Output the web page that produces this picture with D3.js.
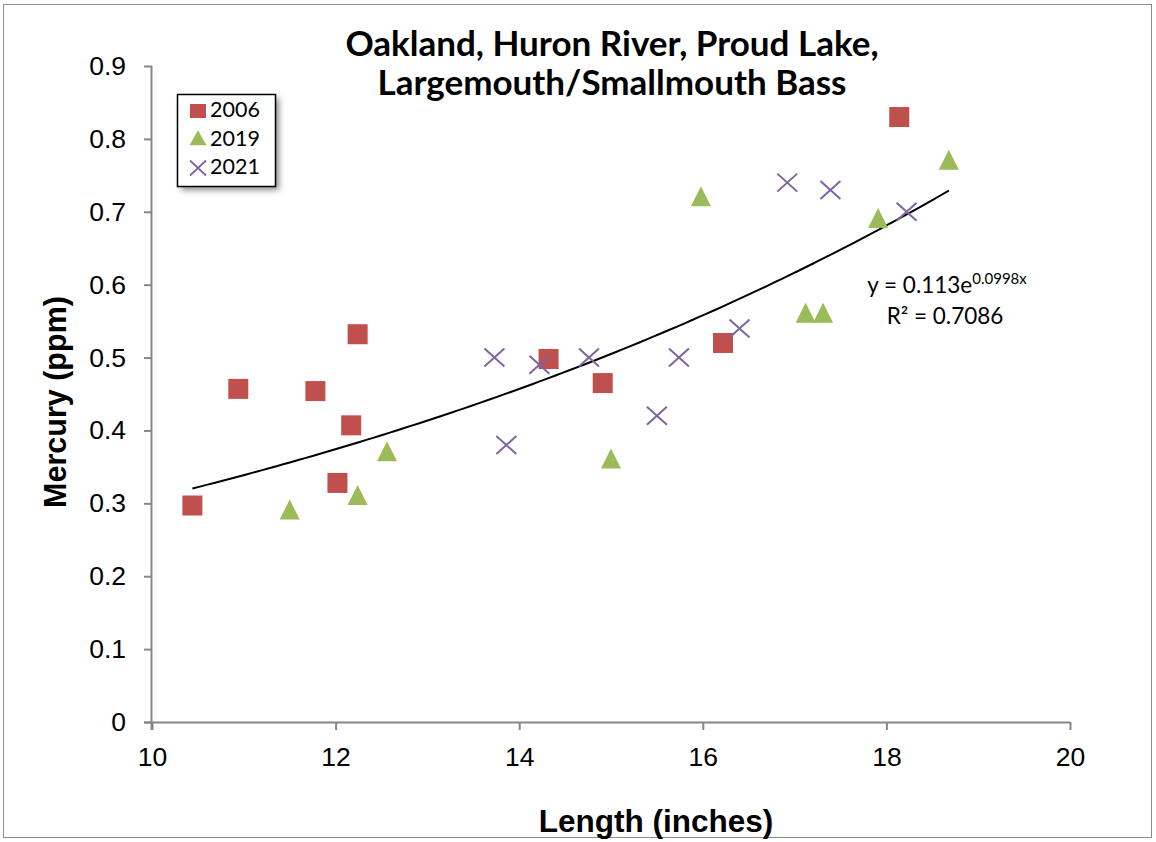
<!DOCTYPE html>
<html><head><meta charset="utf-8">
<script src="https://cdn.jsdelivr.net/npm/d3@7"></script>
<style>body{margin:0;background:#fff}svg{display:block}</style>
</head><body>
<script>
const len2006 = [10.44, 10.94, 11.78, 12.17, 12.02, 12.24, 14.32, 14.91, 16.22, 18.14];
const hg2006  = [0.297, 0.457, 0.454, 0.407, 0.328, 0.532, 0.498, 0.465, 0.52, 0.83];
const len2019 = [11.5, 12.24, 12.56, 15.0, 15.98, 17.12, 17.31, 17.91, 18.68];
const hg2019  = [0.29, 0.31, 0.37, 0.36, 0.72, 0.56, 0.56, 0.69, 0.77];
const len2021 = [13.73, 13.86, 14.22, 14.76, 15.74, 15.5, 16.4, 16.92, 17.39, 18.22];
const hg2021  = [0.50, 0.38, 0.49, 0.50, 0.50, 0.42, 0.54, 0.74, 0.73, 0.70];
const xTicks = [10, 12, 14, 16, 18, 20];
const yTicks = [0, 0.1, 0.2, 0.3, 0.4, 0.5, 0.6, 0.7, 0.8, 0.9];
const trendA = 0.113, trendB = 0.0998, trendX0 = 10.44, trendX1 = 18.68;
const titleLines = ["Oakland, Huron River, Proud Lake,", "Largemouth/Smallmouth Bass"];
const seriesNames = ["2006", "2019", "2021"];

const W = 1156, H = 842;
const svg = d3.select("body").append("svg").attr("width", W).attr("height", H);
const defs = svg.append("defs");
const f = defs.append("filter").attr("id","sh").attr("x","-20%").attr("y","-20%").attr("width","150%").attr("height","150%");
f.append("feGaussianBlur").attr("stdDeviation", 3);

svg.append("rect").attr("x",3.5).attr("y",4.5).attr("width",1148).attr("height",833)
  .attr("fill","#fff").attr("stroke","#8c8c8c").attr("stroke-width",1);

const x = d3.scaleLinear().domain([10,20]).range([152,1070]);
const y = d3.scaleLinear().domain([0,0.9]).range([722,66]);

const axisColor = "#868686";
const gx = svg.append("g").attr("transform","translate(0,722)")
  .call(d3.axisBottom(x).tickValues(xTicks).tickSize(8).tickSizeOuter(0).tickPadding(17).tickFormat(d3.format("d")));
const gy = svg.append("g").attr("transform","translate(152,0)")
  .call(d3.axisLeft(y).tickValues(yTicks).tickSize(8).tickSizeOuter(0).tickPadding(18).tickFormat(d => d===0 ? "0" : d3.format(".1f")(d)));
[gx, gy].forEach(g => {
  g.select(".domain").attr("stroke", axisColor).attr("stroke-width", 2);
  g.selectAll(".tick line").attr("stroke", axisColor).attr("stroke-width", 2);
  g.selectAll("text").attr("font-family","Liberation Sans, Arial, sans-serif").attr("font-size",26.5).attr("fill","#000");
});
gx.select(".domain").attr("d","M144,0.5H1070");
gy.select(".domain").attr("d","M-0.5,66V730");

// trendline
const tx = d3.range(0,101).map(i => trendX0 + (trendX1-trendX0)*i/100);
svg.append("path").datum(tx)
  .attr("d", d3.line().x(d => x(d)).y(d => y(trendA*Math.exp(trendB*d))))
  .attr("fill","none").attr("stroke","#000").attr("stroke-width",2);

const red = "#C0504D", green = "#9BBB59", purple = "#8064A2";
const sq = 20;
svg.append("g").selectAll("rect").data(d3.zip(len2006, hg2006)).join("rect")
  .attr("x", d => x(d[0]) - sq/2).attr("y", d => y(d[1]) - sq/2)
  .attr("width", sq).attr("height", sq).attr("fill", red);
const tri = (cx, cy, w, h) => `M${cx},${cy-h*0.55}L${cx+w/2},${cy+h*0.45}L${cx-w/2},${cy+h*0.45}Z`;
svg.append("g").selectAll("path").data(d3.zip(len2019, hg2019)).join("path")
  .attr("d", d => tri(x(d[0]), y(d[1]), 20, 20)).attr("fill", green);
const cross = (cx, cy, w, h) => `M${cx-w},${cy-h}L${cx+w},${cy+h}M${cx-w},${cy+h}L${cx+w},${cy-h}`;
svg.append("g").selectAll("path").data(d3.zip(len2021, hg2021)).join("path")
  .attr("d", d => cross(x(d[0]), y(d[1]), 10, 9)).attr("stroke", purple).attr("stroke-width", 2).attr("fill","none");

// title
const title = svg.append("text").attr("text-anchor","middle")
  .attr("font-family","Lato, sans-serif").attr("font-weight","bold").attr("font-size",35).attr("fill","#000");
titleLines.forEach((t,i) => title.append("tspan").attr("x", 612).attr("y", 56 + i*39).text(t));

// axis titles
svg.append("text").attr("x",656).attr("y",832).attr("text-anchor","middle")
  .attr("font-family","Liberation Sans, Arial, sans-serif").attr("font-weight","bold").attr("font-size",31.5).text("Length (inches)");
svg.append("text").attr("transform","translate(66,402) rotate(-90)").attr("text-anchor","middle")
  .attr("font-family","Liberation Sans, Arial, sans-serif").attr("font-weight","bold").attr("font-size",30.5).text("Mercury (ppm)");

// equation
const eq = svg.append("text").attr("x",947).attr("y",293).attr("text-anchor","middle")
  .attr("font-family","Lato, sans-serif").attr("font-size",22.5).attr("fill","#000");
eq.append("tspan").text("y = 0.113e");
eq.append("tspan").attr("font-size",15).attr("dy",-9).text("0.0998x");
svg.append("text").attr("x",945).attr("y",324).attr("text-anchor","middle")
  .attr("font-family","Lato, sans-serif").attr("font-size",22.5).attr("fill","#000").text("R² = 0.7086");

// legend
const lg = svg.append("g");
lg.append("rect").attr("x",181).attr("y",98).attr("width",98).attr("height",92).attr("fill","#000").attr("opacity",0.45).attr("filter","url(#sh)");
lg.append("rect").attr("x",177.5).attr("y",94.5).attr("width",98).attr("height",92).attr("fill","#fff").attr("stroke","#000").attr("stroke-width",1.5);
const legColors = [red, green, purple];
seriesNames.forEach((name,i) => {
  const base = 117 + i*28.5, cx = 198;
  if (i===0) lg.append("rect").attr("x",cx-8).attr("y",base-13).attr("width",16).attr("height",14).attr("fill",legColors[i]);
  else if (i===1) lg.append("path").attr("d",tri(cx,base-7,17,15)).attr("fill",legColors[i]);
  else lg.append("path").attr("d",cross(cx,base-6,8,7.5)).attr("stroke",legColors[i]).attr("stroke-width",1.8);
  lg.append("text").attr("x",210).attr("y",base).attr("font-family","Lato, sans-serif").attr("font-size",21.5).text(name);
});
</script>
</body></html>
